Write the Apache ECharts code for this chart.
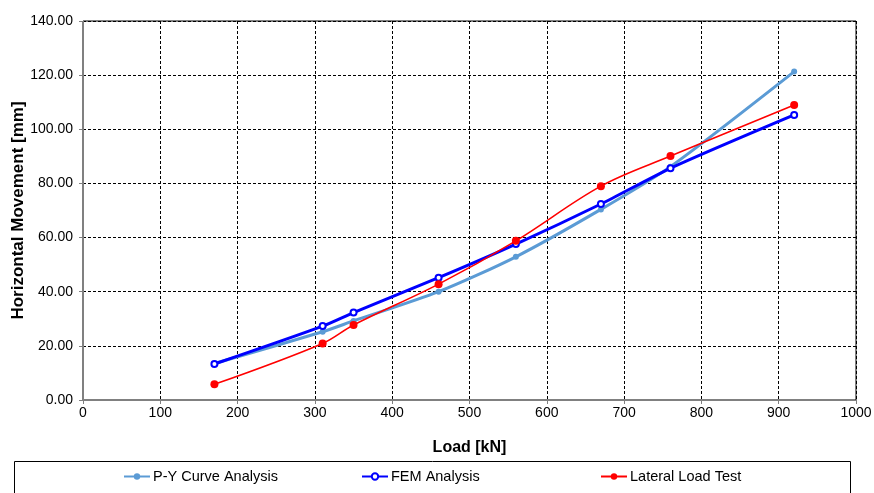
<!DOCTYPE html>
<html>
<head>
<meta charset="utf-8">
<script src="https://cdn.jsdelivr.net/npm/echarts@6/dist/echarts.min.js"></script>
<style>html,body{margin:0;padding:0;background:#fff;}#c{width:874px;height:493px;}</style>
</head>
<body>
<div id="c"></div>
<script>
const loads = [170, 310, 350, 460, 560, 670, 760, 920];
const pyCurve = [13.5, 25.2, 29.2, 40.0, 52.9, 70.4, 86.2, 121.3];
const femAnalysis = [13.3, 27.3, 32.3, 45.2, 57.6, 72.4, 85.6, 105.3];
const lateralTest = [5.8, 20.9, 27.7, 42.8, 58.8, 79.0, 90.1, 109.0];
const seriesNames = ['P-Y Curve Analysis', 'FEM Analysis', 'Lateral Load Test'];
const xTitle = 'Load [kN]';
const yTitle = 'Horizontal Movement [mm]';

const pair = arr => loads.map((x, i) => [x, arr[i]]);
const font = 'Liberation Sans, Arial, sans-serif';
const legendLefts = [123, 361, 600];
const chart = echarts.init(document.getElementById('c'), null, {renderer: 'canvas'});
chart.setOption({
  animation: false,
  backgroundColor: '#fff',
  grid: {left: 83, right: 18, top: 21, bottom: 93, show: true, borderColor: '#000', borderWidth: 1,
         containLabel: false, outerBoundsMode: 'none'},
  xAxis: {
    type: 'value', min: 0, max: 1000, interval: 100,
    name: xTitle, nameLocation: 'middle', nameGap: 40, nameMoveOverlap: false,
    nameTextStyle: {fontFamily: font, fontWeight: 'bold', fontSize: 16, color: '#000'},
    axisLine: {show: true, lineStyle: {color: '#808080', width: 1}},
    axisTick: {show: true, length: 4, lineStyle: {color: '#808080'}},
    axisLabel: {fontFamily: font, fontSize: 14, color: '#000', margin: 6, formatter: v => String(v)},
    splitLine: {show: true, lineStyle: {color: '#000', type: [3, 2], width: 1}}
  },
  yAxis: {
    type: 'value', min: 0, max: 140, interval: 20,
    name: yTitle, nameLocation: 'middle', nameGap: 56, nameMoveOverlap: false,
    nameTextStyle: {fontFamily: font, fontWeight: 'bold', fontSize: 17, color: '#000'},
    axisLine: {show: true, lineStyle: {color: '#808080', width: 1}},
    axisTick: {show: true, length: 4, lineStyle: {color: '#808080'}},
    axisLabel: {fontFamily: font, fontSize: 14, color: '#000', margin: 10, formatter: v => v.toFixed(2)},
    splitLine: {show: true, lineStyle: {color: '#000', type: [3, 2], width: 1}}
  },
  legend: seriesNames.map((n, i) => ({
    top: 469, left: legendLefts[i], padding: 0, itemGap: 4, itemWidth: 26, itemHeight: 8,
    textStyle: {fontFamily: font, fontSize: 14.5, color: '#000', padding: [0, 0, 0, -2]},
    data: [n]
  })),
  graphic: [{
    type: 'rect', left: 12, top: 459,
    shape: {width: 836, height: 40},
    style: {fill: 'none', stroke: '#000', lineWidth: 1}
  }],
  series: [
    {
      name: seriesNames[0], type: 'line', data: pair(pyCurve), smooth: 0.25,
      symbol: 'circle', symbolSize: 6,
      itemStyle: {color: '#5b9bd5'},
      lineStyle: {color: '#5b9bd5', width: 3}, z: 2
    },
    {
      name: seriesNames[1], type: 'line', data: pair(femAnalysis), smooth: 0.25,
      symbol: 'emptyCircle', symbolSize: 6,
      itemStyle: {color: '#0000ff', borderWidth: 1},
      lineStyle: {color: '#0000ff', width: 3}, z: 3
    },
    {
      name: seriesNames[2], type: 'line', data: pair(lateralTest), smooth: 0.35,
      symbol: 'circle', symbolSize: 8,
      itemStyle: {color: '#ff0000'},
      lineStyle: {color: '#ff0000', width: 1.6}, z: 4
    }
  ]
});
</script>
</body>
</html>
